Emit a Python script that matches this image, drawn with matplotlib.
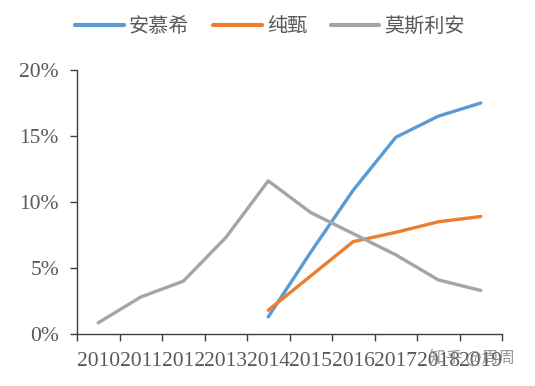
import matplotlib
matplotlib.use("Agg")
import matplotlib.pyplot as plt
import numpy as np

years = ["2010", "2011", "2012", "2013", "2014", "2015", "2016", "2017", "2018", "2019"]
anmuxi = [None, None, None, None, 1.3, 6.2, 10.9, 14.9, 16.5, 17.5]
chunzhen = [None, None, None, None, 1.8, 4.4, 7.0, 7.7, 8.5, 8.9]
mosili = [0.85, 2.8, 4.0, 7.3, 11.6, 9.2, 7.6, 6.0, 4.1, 3.3]
series_names = ["安慕希", "纯甄", "莫斯利安"]
colors = ["#5B9BD5", "#ED7D31", "#A5A5A5"]
yticks = [0, 5, 10, 15, 20]

plt.rcParams['font.family'] = ['Liberation Serif', 'Noto Sans CJK SC']

fig = plt.figure(figsize=(5.35, 3.86), dpi=100)
ax = fig.add_axes([77/535, 1-334/386, 425/535, 264/386])

x = np.arange(len(years))
for vals, name, c in zip([anmuxi, chunzhen, mosili], series_names, colors):
    xs = [xi for xi, v in zip(x, vals) if v is not None]
    ys = [v for v in vals if v is not None]
    ax.plot(xs, ys, color=c, lw=2.4, label=name, solid_capstyle='round', solid_joinstyle='round')

ax.set_xlim(-0.5, len(years) - 0.5)
ax.set_ylim(0, 20)
ax.set_yticks(yticks)
ax.set_yticklabels([f"{v}%" for v in yticks])
ax.set_xticks(x)
ax.set_xticklabels(years)
ax.set_xticks(np.arange(-0.5, len(years)), minor=True)
ax.tick_params(axis='x', which='major', length=0, pad=13, labelsize=15.5, labelcolor='#595959')
ax.tick_params(axis='x', which='minor', length=5, width=1, color='#404040', direction='out')
ax.tick_params(axis='y', length=5, width=1, color='#404040', pad=8, labelsize=15.5, labelcolor='#595959')
for s in ['top', 'right']:
    ax.spines[s].set_visible(False)
for s in ['left', 'bottom']:
    ax.spines[s].set_color('#404040')
    ax.spines[s].set_linewidth(1)

leg = fig.legend(loc='center', bbox_to_anchor=(0.505, 1 - 27/386), ncol=3, frameon=False,
                 prop={'family': ['Noto Sans CJK SC'], 'size': 14.5},
                 handlelength=2.4, handletextpad=0.25, columnspacing=1.2)
for t in leg.get_texts():
    t.set_color('#595959')
for h in leg.get_lines():
    h.set_linewidth(3)

fig.text(472/535, 1 - 358/386, "知乎 @周周", family=['Noto Sans CJK SC'], fontsize=12,
         color='#7f7f7f', alpha=0.8, ha='center', va='center')

fig.savefig("out.png", dpi=100)
